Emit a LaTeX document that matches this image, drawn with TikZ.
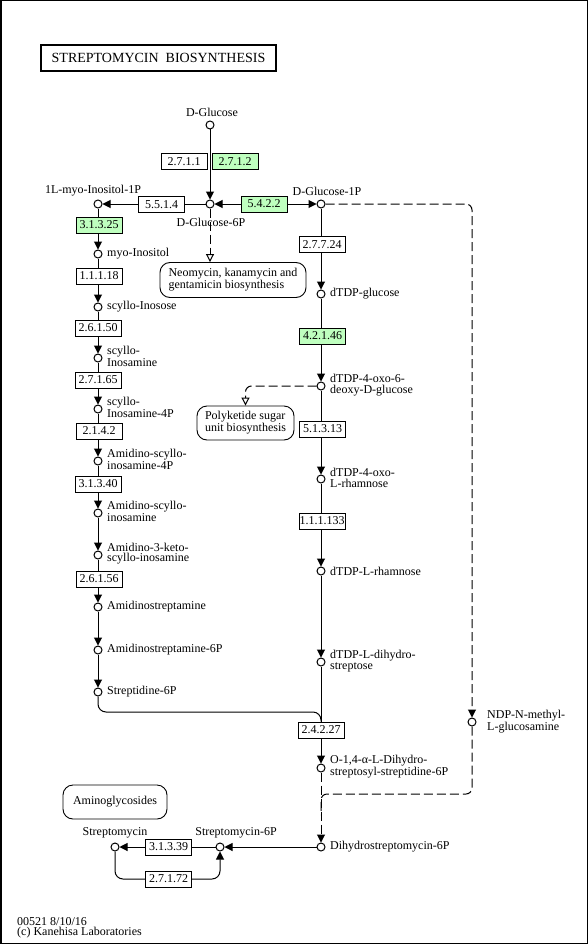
\documentclass[tikz,border=0pt]{standalone}
\usepackage{fontspec}
\setmainfont{Liberation Serif}
\usetikzlibrary{arrows.meta}
\pgfdeclarelayer{bg}
\pgfsetlayers{bg,main}
\definecolor{enzgreen}{HTML}{BFFFBF}
\begin{document}
\begin{tikzpicture}[x=1pt,y=-1pt,
  font=\fontsize{12}{10.5}\selectfont,
  cpd/.style={circle,draw,line width=1pt,fill=white,minimum size=8pt,inner sep=0pt},
  enz/.style={draw,fill=white,line width=0.9pt,minimum width=46pt,minimum height=16pt,inner sep=0pt},
  genz/.style={enz,fill=enzgreen},
  lbl/.style={inner sep=0pt,align=left},
  lblr/.style={lbl,anchor=west},
  mapbox/.style={draw,rounded corners=10pt,line width=0.9pt,inner xsep=7pt,inner ysep=0pt,align=left},
  ln/.style={line width=1pt},
  rxn/.style={ln,-{Triangle[length=8pt,width=8pt]}},
  dsh/.style={line width=1pt,dash pattern=on 9pt off 4pt},
  dsharr/.style={dsh,-{Triangle[length=8pt,width=8pt]}},
  maparr/.style={dsh,-{Triangle[open,length=8pt,width=8pt]}},
]
\useasboundingbox (0,0) rectangle (588,944);
\draw[line width=1.5pt] (0.75,0.75) rectangle (587.25,943.25);

% title
\node[draw,line width=2pt,minimum width=235pt,minimum height=26pt,inner sep=0pt,
  font=\fontsize{14}{16}\selectfont] (title) at (158.5,58) {STREPTOMYCIN~~BIOSYNTHESIS};

% compounds top
\node[cpd] (glc) at (210,125) {};
\node[lbl] (glcL) at (212,112) {D-Glucose};
\node[cpd] (g6p) at (210,204) {};
\node[lbl] (g6pL) at (211,222) {D-Glucose-6P};
\node[cpd] (mi1p) at (98,204) {};
\node[lbl] (mi1pL) at (93,191) {1L-myo-Inositol-1P};
\node[cpd] (g1p) at (321,204) {};
\node[lbl] (g1pL) at (327,191) {D-Glucose-1P};

% left column
\node[cpd] (mino) at (98,254) {};
\node[lblr] (minoL) at (107,254) {myo-Inositol};
\node[cpd] (sino) at (98,307) {};
\node[lblr] (sinoL) at (107,307) {scyllo-Inosose};
\node[cpd] (sinam) at (98,358) {};
\node[lblr] (sinamL) at (107,356.5) {scyllo-\\Inosamine};
\node[cpd] (sinam4p) at (98,409) {};
\node[lblr] (sinam4pL) at (107,407.5) {scyllo-\\Inosamine-4P};
\node[cpd] (amsi4p) at (98,461) {};
\node[lblr] (amsi4pL) at (107,459.5) {Amidino-scyllo-\\inosamine-4P};
\node[cpd] (amsi) at (98,513) {};
\node[lblr] (amsiL) at (107,511.5) {Amidino-scyllo-\\inosamine};
\node[cpd] (am3k) at (98,555) {};
\node[lblr] (am3kL) at (107,553.5) {Amidino-3-keto-\\scyllo-inosamine};
\node[cpd] (amstr) at (98,607) {};
\node[lblr] (amstrL) at (107,607) {Amidinostreptamine};
\node[cpd] (amstr6p) at (98,650) {};
\node[lblr] (amstr6pL) at (107,650) {Amidinostreptamine-6P};
\node[cpd] (strd6p) at (98,692) {};
\node[lblr] (strd6pL) at (107,692) {Streptidine-6P};

% right column
\node[cpd] (dtdpglc) at (321,294) {};
\node[lblr] (dtdpglcL) at (330,294) {dTDP-glucose};
\node[cpd] (dtdp4o6d) at (321,386) {};
\node[lblr] (dtdp4o6dL) at (330,385) {dTDP-4-oxo-6-\\deoxy-D-glucose};
\node[cpd] (dtdp4orha) at (321,479) {};
\node[lblr] (dtdp4orhaL) at (330,478) {dTDP-4-oxo-\\L-rhamnose};
\node[cpd] (dtdprha) at (321,571) {};
\node[lblr] (dtdprhaL) at (330,571) {dTDP-L-rhamnose};
\node[cpd] (dtdpdhs) at (321,662) {};
\node[lblr] (dtdpdhsL) at (330,661) {dTDP-L-dihydro-\\streptose};
\node[cpd] (odhs) at (321,768) {};
\node[lblr] (odhsL) at (330,767) {O-1,4-α-L-Dihydro-\\streptosyl-streptidine-6P};
\node[cpd] (dhsm6p) at (321,847) {};
\node[lblr] (dhsm6pL) at (330,847) {Dihydrostreptomycin-6P};
\node[cpd] (ndp) at (472,722) {};
\node[lblr] (ndpL) at (487,722) {NDP-N-methyl-\\L-glucosamine};
\node[cpd] (sm6p) at (220,847) {};
\node[lbl] (sm6pL) at (236,833) {Streptomycin-6P};
\node[cpd] (sm) at (115,847) {};
\node[lbl] (smL) at (115,833) {Streptomycin};

% enzymes
\node[enz] (e2711) at (184,161.5) {2.7.1.1};
\node[genz] (e2712) at (235,161.5) {2.7.1.2};
\node[enz] (e5514) at (161.5,204.5) {5.5.1.4};
\node[genz] (e5422) at (264,204) {5.4.2.2};
\node[genz] (e31325) at (99,225) {3.1.3.25};
\node[enz] (e11118) at (99,276) {1.1.1.18};
\node[enz] (e26150) at (98,328) {2.6.1.50};
\node[enz] (e27165) at (98,380) {2.7.1.65};
\node[enz] (e2142) at (99,431) {2.1.4.2};
\node[enz] (e31340) at (98,484) {3.1.3.40};
\node[enz] (e26156) at (99,579) {2.6.1.56};
\node[enz] (e27724) at (322,244.5) {2.7.7.24};
\node[genz] (e42146) at (322.5,336) {4.2.1.46};
\node[enz] (e51313) at (322.5,429) {5.1.3.13};
\node[enz] (e111133) at (322,521) {1.1.1.133};
\node[enz] (e24227) at (321,730) {2.4.2.27};
\node[enz] (e31339) at (168.5,847) {3.1.3.39};
\node[enz] (e27172) at (168.5,879) {2.7.1.72};

% maps
\node[mapbox,minimum width=146pt,minimum height=35pt] (neo) at (233,280) {Neomycin, kanamycin and\\gentamicin biosynthesis};
\node[mapbox,minimum width=97pt,minimum height=34pt] (poly) at (245.5,423) {Polyketide sugar\\unit biosynthesis};
\node[mapbox,minimum width=104pt,minimum height=34pt] (amg) at (115,802) {Aminoglycosides};

% footer
\node[lblr] (foot) at (17,928) {00521 8/10/16\\(c) Kanehisa Laboratories};

% helper coordinates
\coordinate (c1) at (321,712);
\coordinate (c2) at (321,794);
\coordinate (c3) at (321,815);
\coordinate (c4) at (168,879);

\begin{pgfonlayer}{bg}
\draw[rxn] (glc) -- (g6p);
\draw[rxn] (g6p) -- (mi1p);
\draw[ln,{Triangle[length=8pt,width=8pt]}-{Triangle[length=8pt,width=8pt]}] (g6p) -- (g1p);
\draw[maparr] (g6p) -- (g6p |- neo.north);
\draw[rxn] (mi1p) -- (mino);
\draw[rxn] (mino) -- (sino);
\draw[rxn] (sino) -- (sinam);
\draw[rxn] (sinam) -- (sinam4p);
\draw[rxn] (sinam4p) -- (amsi4p);
\draw[rxn] (amsi4p) -- (amsi);
\draw[rxn] (amsi) -- (am3k);
\draw[rxn] (am3k) -- (amstr);
\draw[rxn] (amstr) -- (amstr6p);
\draw[rxn] (amstr6p) -- (strd6p);
\draw[ln,rounded corners=8pt] (strd6p) |- (c1) -- (e24227);
\draw[rxn] (g1p) -- (dtdpglc);
\draw[rxn] (dtdpglc) -- (dtdp4o6d);
\draw[rxn] (dtdp4o6d) -- (dtdp4orha);
\draw[rxn] (dtdp4orha) -- (dtdprha);
\draw[rxn] (dtdprha) -- (dtdpdhs);
\draw[rxn] (dtdpdhs) -- (odhs);
\draw[maparr,rounded corners=6pt] (dtdp4o6d) -| (poly);
\draw[dsharr,rounded corners=6pt] (g1p) -| (ndp);
\draw[dsh,rounded corners=6pt] (ndp) |- (c2) -- (c3);
\draw[dsharr] (odhs) -- (dhsm6p);
\draw[rxn] (dhsm6p) -- (sm6p);
\draw[rxn] (sm6p) -- (sm);
\draw[rxn,rounded corners=8pt] (sm) |- (c4) -| (sm6p);
\end{pgfonlayer}
\end{tikzpicture}
\end{document}
